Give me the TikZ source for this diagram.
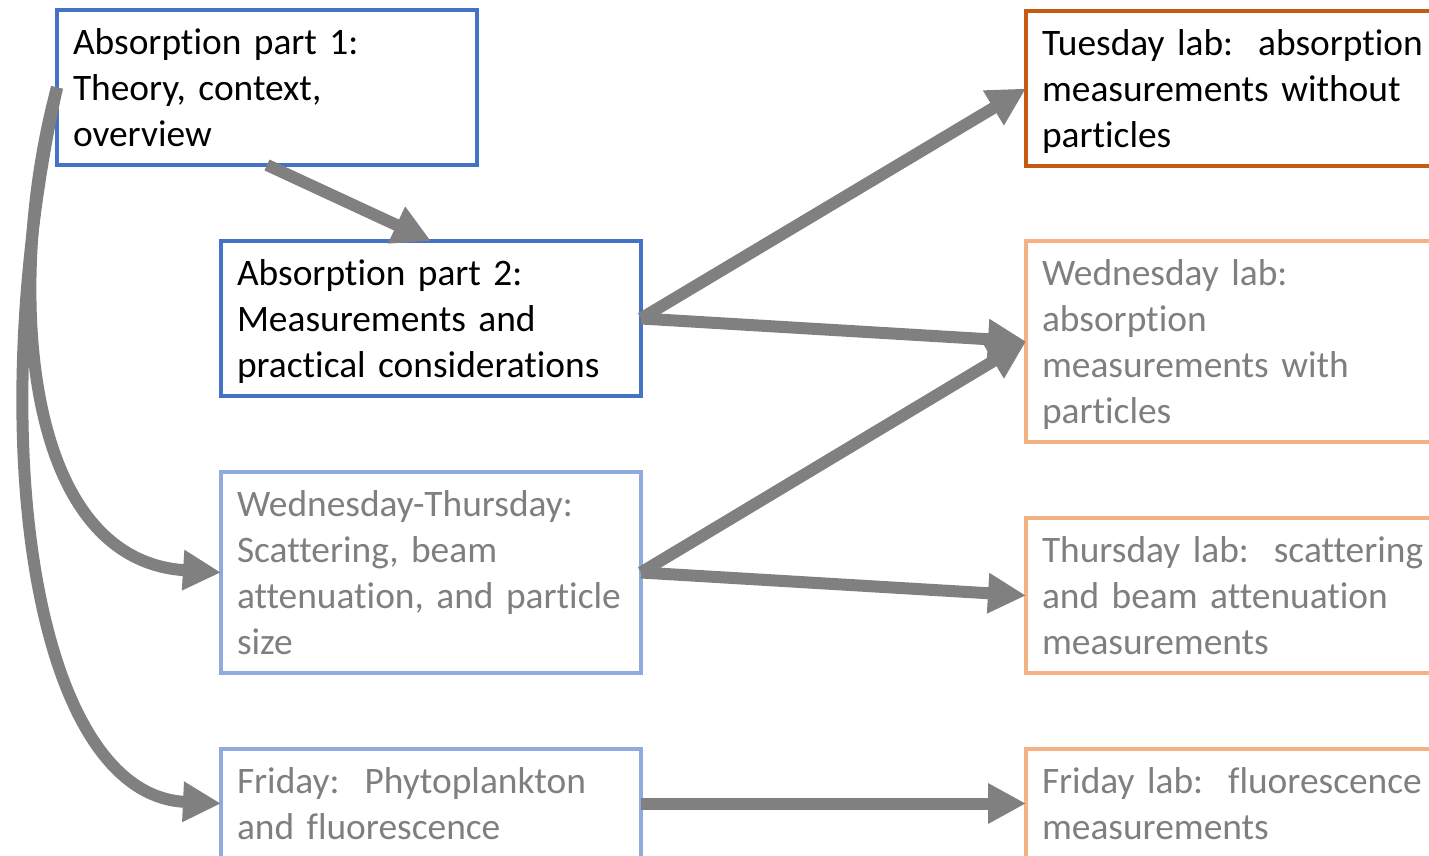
\documentclass[tikz,border=0pt]{standalone}
\usepackage{fontspec}
\setmainfont{Carlito}[Ligatures=CommonOff]
\usetikzlibrary{arrows.meta}
\definecolor{mybluebox}{RGB}{68,114,196}
\definecolor{mylightblue}{RGB}{143,170,220}
\definecolor{myorangebox}{RGB}{197,90,17}
\definecolor{mylightorange}{RGB}{244,177,131}
\definecolor{myarrowgray}{RGB}{128,128,128}
\definecolor{mytextgray}{RGB}{127,127,127}
\newcommand{\labstrut}{\rule[-5.2pt]{0pt}{23pt}}
\frenchspacing
\tikzset{
  topic/.style = {rectangle, draw, line width=2pt, anchor=north west, outer sep=0pt,
                  text width=194pt, inner xsep=8pt, inner ysep=4.25pt, align=left,
                  font=\fontsize{18.7}{23}\selectfont},
  darkbox/.style = {topic, draw=mybluebox, text=black},
  lightbox/.style = {topic, draw=mylightblue, text=mytextgray},
  darklab/.style = {topic, draw=myorangebox, text=black},
  lightlab/.style = {topic, draw=mylightorange, text=mytextgray},
  flow/.style = {draw=myarrowgray, line width=6pt, -{Triangle[length=19pt,width=19pt]}}
}
\begin{document}
\begin{tikzpicture}[x=0.5pt, y=-0.5pt]
\useasboundingbox (0,0) rectangle (1429,856);
\clip (0,0) rectangle (1429,856);

%lectures, left column
\node[darkbox] (a1) at (57,10) {\labstrut Absorption part 1:\\\labstrut Theory, context,\\\labstrut overview};
\node[darkbox] (a2) at (221,241) {\labstrut Absorption part 2:\\\labstrut Measurements and\\\labstrut practical considerations};
\node[lightbox] (wt) at (221,472) {\labstrut Wednesday-Thursday:\\\labstrut Scattering, beam\\\labstrut attenuation, and particle\\\labstrut size};
\node[lightbox] (fri) at (221,749) {\labstrut Friday: \ Phytoplankton\\\labstrut and fluorescence};

%labs, right column
\node[darklab] (tue) at (1026,11) {\labstrut Tuesday lab: \ absorption\\\labstrut measurements without\\\labstrut particles};
\node[lightlab] (wed) at (1026,241) {\labstrut Wednesday lab:\\\labstrut absorption\\\labstrut measurements with\\\labstrut particles};
\node[lightlab] (thu) at (1026,518) {\labstrut Thursday lab: \ scattering\\\labstrut and beam attenuation\\\labstrut measurements};
\node[lightlab] (frilab) at (1026,749) {\labstrut Friday lab: \ fluorescence\\\labstrut measurements};

%connectors
\draw[flow] (a1.south) -- (a2.north);
\draw[flow] (a1.west) .. controls (5,280) and (20,560) .. (wt.west);
\draw[flow] (a1.west) .. controls (-20,440) and (35,795) .. (fri.west);
\draw[flow] (a2.east) -- (tue.west);
\draw[flow] (a2.east) -- (wed.west);
\draw[flow] (wt.east) -- (wed.west);
\draw[flow] (wt.east) -- (thu.west);
\draw[flow] (fri.east) -- (frilab.west);
\end{tikzpicture}
\end{document}
